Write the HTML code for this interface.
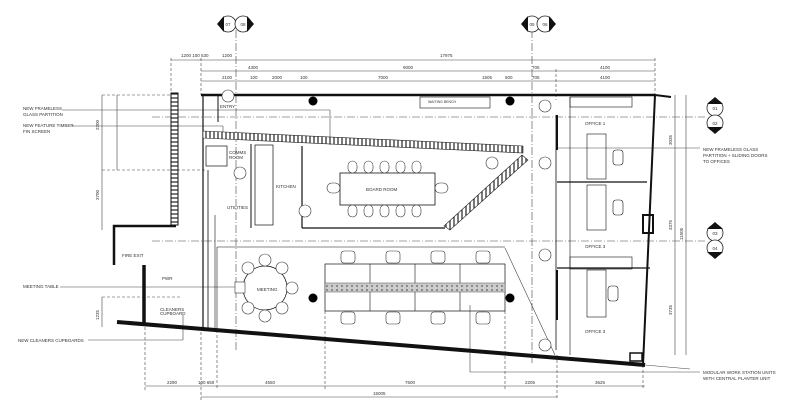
<!DOCTYPE html>
<html><head><style>
html,body{margin:0;padding:0;background:#fff;}
svg{display:block;}
text{font-family:"Liberation Sans",sans-serif;fill:#333;}
</style></head><body>
<svg width="800" height="405" viewBox="0 0 800 405" xmlns="http://www.w3.org/2000/svg">
<defs>
<pattern id="hatch" width="4" height="4" patternUnits="userSpaceOnUse"><rect width="4" height="4" fill="#fff"/><line x1="2" y1="0" x2="2" y2="4" stroke="#222" stroke-width="1.2"/></pattern>
<pattern id="hatchH" width="4" height="4" patternUnits="userSpaceOnUse"><rect width="4" height="4" fill="#fff"/><line x1="0" y1="2" x2="4" y2="2" stroke="#222" stroke-width="1.2"/></pattern>
<pattern id="planter" width="5" height="4" patternUnits="userSpaceOnUse"><rect width="5" height="4" fill="#ccc"/><circle cx="2" cy="2" r="1" fill="#777"/></pattern>
</defs>
<g stroke="#444" stroke-width="0.6" fill="none">
<!-- grid dash-dot -->
<line x1="236" y1="30" x2="236" y2="350" stroke-dasharray="8,2,1,2"/>
<line x1="532" y1="30" x2="532" y2="365" stroke-dasharray="8,2,1,2"/>
<line x1="152" y1="117" x2="705" y2="117" stroke-dasharray="8,2,1,2"/>
<line x1="152" y1="241" x2="705" y2="241" stroke-dasharray="8,2,1,2"/>
<!-- top dims -->
<line x1="171" y1="60" x2="655" y2="60"/>
<line x1="201" y1="71" x2="655" y2="71"/>
<line x1="201" y1="81" x2="655" y2="81"/>
<line x1="171" y1="58" x2="171" y2="225" stroke-dasharray="3,2"/>
<line x1="201" y1="58" x2="201" y2="95" stroke-dasharray="3,2"/>
<line x1="655" y1="58" x2="655" y2="95" stroke-dasharray="3,2"/>
<line x1="556" y1="69" x2="556" y2="100" stroke-dasharray="3,2"/>
<!-- left dims -->
<line x1="102" y1="95" x2="102" y2="150"/>
<line x1="102" y1="150" x2="102" y2="230"/>
<line x1="117" y1="95" x2="117" y2="170"/>
<line x1="102" y1="95" x2="178" y2="95" stroke-dasharray="3,2"/>
<line x1="102" y1="170" x2="205" y2="170" stroke-dasharray="3,2"/>
<line x1="102" y1="297" x2="180" y2="297" stroke-dasharray="3,2"/>
<line x1="102" y1="297" x2="102" y2="327"/>
<!-- bottom dims -->
<line x1="145" y1="386" x2="645" y2="386"/>
<line x1="201" y1="397" x2="557" y2="397"/>
<line x1="145" y1="322" x2="145" y2="390" stroke-dasharray="3,2"/>
<line x1="201" y1="327" x2="201" y2="400" stroke-dasharray="3,2"/>
<line x1="217" y1="330" x2="217" y2="390" stroke-dasharray="3,2"/>
<line x1="325" y1="311" x2="325" y2="390" stroke-dasharray="3,2"/>
<line x1="505" y1="311" x2="505" y2="390" stroke-dasharray="3,2"/>
<line x1="557" y1="355" x2="557" y2="400" stroke-dasharray="3,2"/>
<line x1="643" y1="365" x2="643" y2="390" stroke-dasharray="3,2"/>
<!-- right dims -->
<line x1="675" y1="95" x2="675" y2="355"/>
<line x1="686" y1="95" x2="686" y2="355"/>
<!-- leaders -->
<line x1="62" y1="110" x2="330" y2="110"/><line x1="330" y1="110" x2="330" y2="145"/>
<line x1="72" y1="126" x2="223" y2="126"/><line x1="223" y1="126" x2="223" y2="133"/>
<line x1="60" y1="287" x2="245" y2="287"/>
<line x1="88" y1="340" x2="183" y2="340"/><line x1="183" y1="340" x2="183" y2="315"/>
<line x1="556" y1="148" x2="700" y2="148"/>
<line x1="470" y1="305" x2="470" y2="372"/><line x1="470" y1="372" x2="700" y2="372"/>
<line x1="645" y1="365" x2="690" y2="369"/>
<line x1="505" y1="248" x2="555" y2="355"/>
</g>
<!-- section markers -->
<g stroke="#222" stroke-width="0.8" fill="#fff">
<circle cx="228" cy="24" r="8"/><circle cx="243" cy="24" r="8"/>
<circle cx="532" cy="24" r="8"/><circle cx="545" cy="24" r="8"/>
<circle cx="715" cy="108" r="8"/><circle cx="715" cy="123" r="8"/>
<circle cx="715" cy="233" r="8"/><circle cx="715" cy="248" r="8"/>
</g>
<g fill="#111">
<polygon points="217,24 224,16 224,32"/><polygon points="254,24 247,16 247,32"/>
<polygon points="521,24 528,16 528,32"/><polygon points="556,24 549,16 549,32"/>
<polygon points="715,97 707,104 723,104"/><polygon points="715,134 707,127 723,127"/>
<polygon points="715,222 707,229 723,229"/><polygon points="715,259 707,252 723,252"/>
</g>
<g font-size="4.5" text-anchor="middle">
<text x="228" y="26">07</text><text x="243" y="26">08</text>
<text x="532" y="26">05</text><text x="545" y="26">06</text>
<text x="715" y="110">01</text><text x="715" y="125">02</text>
<text x="715" y="235">03</text><text x="715" y="250">04</text>
</g>
<!-- walls -->
<g stroke="#111" fill="none">
<line x1="201" y1="95" x2="655" y2="95" stroke-width="2.5"/>
<line x1="203" y1="94" x2="203" y2="327" stroke-width="1.2"/>
<line x1="208" y1="170" x2="208" y2="330" stroke-width="0.8"/>
<line x1="215" y1="215" x2="215" y2="330" stroke-width="0.6"/>
<line x1="117" y1="322" x2="645" y2="365" stroke-width="4"/>
<line x1="655" y1="95" x2="643" y2="365" stroke-width="2"/>
<polyline points="114,265 114,226 176,226" stroke-width="2.5"/>
<line x1="144" y1="265" x2="144" y2="325" stroke-width="3.5"/>
<line x1="655" y1="95" x2="671" y2="97" stroke-width="2"/>
<rect x="643" y="215" width="10" height="18" stroke-width="2"/>
<rect x="630" y="353" width="12" height="8" stroke-width="1.5"/>
<!-- interior -->
<line x1="203" y1="140" x2="203" y2="230" stroke-width="1"/>
<rect x="206" y="146" width="21" height="20" stroke-width="0.7"/>
<line x1="251" y1="144" x2="251" y2="228" stroke-width="1"/>
<rect x="255" y="145" width="18" height="80" stroke-width="0.7"/>
<line x1="302" y1="146" x2="302" y2="228" stroke-width="1.2"/>
<line x1="302" y1="228" x2="445" y2="228" stroke-width="1.2"/>
<line x1="218" y1="95" x2="218" y2="122" stroke-width="1"/>
<line x1="228" y1="95" x2="244" y2="95" stroke-width="2"/>
<!-- boardroom table -->
<rect x="340" y="173" width="95" height="32" stroke-width="0.8"/>
<!-- workstations -->
<rect x="325" y="264" width="180" height="47" stroke-width="0.7"/>
<line x1="370" y1="264" x2="370" y2="311" stroke-width="0.6"/>
<line x1="415" y1="264" x2="415" y2="311" stroke-width="0.6"/>
<line x1="460" y1="264" x2="460" y2="311" stroke-width="0.6"/>
<line x1="217" y1="247" x2="505" y2="247" stroke-width="0.6"/>
<line x1="217" y1="247" x2="217" y2="330" stroke-width="0.6"/>
<!-- meeting -->
<circle cx="265" cy="288" r="22" stroke-width="0.7"/>
<!-- offices -->
<line x1="556" y1="115" x2="556" y2="350" stroke-width="0.8"/>
<line x1="557" y1="115" x2="557" y2="150" stroke-width="2"/>
<line x1="557" y1="270" x2="557" y2="320" stroke-width="2"/>
<line x1="557" y1="182" x2="647" y2="182" stroke-width="1.2"/>
<line x1="557" y1="268" x2="650" y2="268" stroke-width="1.2"/>
<rect x="570" y="97" width="62" height="10" stroke-width="0.6"/>
<rect x="570" y="257" width="62" height="12" stroke-width="0.6"/>
<line x1="570" y1="97" x2="570" y2="355" stroke-width="0.6"/>
<rect x="587" y="134" width="19" height="45" stroke-width="0.6"/>
<rect x="587" y="185" width="19" height="45" stroke-width="0.6"/>
<rect x="587" y="270" width="19" height="47" stroke-width="0.6"/>
<rect x="613" y="150" width="10" height="15" rx="3" stroke-width="0.6"/>
<rect x="613" y="200" width="10" height="15" rx="3" stroke-width="0.6"/>
<rect x="608" y="286" width="10" height="15" rx="3" stroke-width="0.6"/>
<rect x="420" y="97" width="70" height="11" stroke-width="0.6"/>
</g>
<!-- chairs -->
<g stroke="#333" stroke-width="0.6" fill="#fff">
<rect x="348" y="161" width="9" height="12" rx="4.5"/><rect x="364" y="161" width="9" height="12" rx="4.5"/><rect x="380" y="161" width="9" height="12" rx="4.5"/><rect x="396" y="161" width="9" height="12" rx="4.5"/><rect x="412" y="161" width="9" height="12" rx="4.5"/>
<rect x="348" y="205" width="9" height="12" rx="4.5"/><rect x="364" y="205" width="9" height="12" rx="4.5"/><rect x="380" y="205" width="9" height="12" rx="4.5"/><rect x="396" y="205" width="9" height="12" rx="4.5"/><rect x="412" y="205" width="9" height="12" rx="4.5"/>
<rect x="327" y="183" width="13" height="10" rx="5"/><rect x="435" y="183" width="13" height="10" rx="5"/>
<rect x="341" y="251" width="14" height="12" rx="3"/><rect x="386" y="251" width="14" height="12" rx="3"/><rect x="431" y="251" width="14" height="12" rx="3"/><rect x="476" y="251" width="14" height="12" rx="3"/>
<rect x="341" y="312" width="14" height="12" rx="3"/><rect x="386" y="312" width="14" height="12" rx="3"/><rect x="431" y="312" width="14" height="12" rx="3"/><rect x="476" y="312" width="14" height="12" rx="3"/>
<circle cx="265" cy="260" r="6"/><circle cx="265" cy="316" r="6"/><circle cx="248" cy="268" r="6"/><circle cx="282" cy="268" r="6"/><circle cx="248" cy="308" r="6"/><circle cx="282" cy="308" r="6"/><circle cx="292" cy="288" r="6"/><rect x="235" y="282" width="10" height="11"/>
</g>
<rect x="325" y="283" width="180" height="9" fill="url(#planter)" stroke="#555" stroke-width="0.5"/>
<!-- hatched screens -->
<polygon points="203,131 523,146 523,153 203,138" fill="url(#hatch)" stroke="#222" stroke-width="0.6"/>
<polygon points="522,155 528,160 450,230 444,226" fill="url(#hatch)" stroke="#222" stroke-width="0.6"/>
<rect x="171" y="93" width="7" height="132" fill="url(#hatchH)" stroke="#111" stroke-width="1"/>
<!-- columns -->
<g fill="#000"><circle cx="313" cy="101" r="4.5"/><circle cx="510" cy="101" r="4.5"/><circle cx="313" cy="298" r="4.5"/><circle cx="510" cy="298" r="4.5"/></g>
<!-- tags -->
<g stroke="#333" stroke-width="0.6" fill="#fff">
<circle cx="228" cy="96" r="6"/><circle cx="240" cy="173" r="6"/><circle cx="305" cy="211" r="6"/><circle cx="545" cy="106" r="6"/><circle cx="545" cy="163" r="6"/><circle cx="545" cy="255" r="6"/><circle cx="545" cy="345" r="6"/><circle cx="492" cy="163" r="6"/>
</g>
<!-- labels -->
<g font-size="4.5">
<text x="23" y="110">NEW FRAMELESS</text><text x="23" y="116">GLASS PARTITION</text>
<text x="23" y="127">NEW FEATURE TIMBER</text><text x="23" y="133">FIN SCREEN</text>
<text x="23" y="288">MEETING TABLE</text>
<text x="18" y="342">NEW CLEANERS CUPBOARDS</text>
<text x="703" y="151">NEW FRAMELESS GLASS</text><text x="703" y="157">PARTITION + SLIDING DOORS</text><text x="703" y="163">TO OFFICES</text>
<text x="703" y="374">MODULAR WORK STATION UNITS</text><text x="703" y="380">WITH CENTRAL PLANTER UNIT</text>
<text x="220" y="108">ENTRY</text><text x="229" y="154">COMMS</text><text x="229" y="159">ROOM</text>
<text x="276" y="188">KITCHEN</text><text x="227" y="209">UTILITIES</text>
<text x="366" y="191">BOARD ROOM</text><text x="257" y="291">MEETING</text>
<text x="122" y="257">FIRE EXIT</text><text x="162" y="280">PWR</text>
<text x="160" y="311">CLEANERS</text><text x="160" y="315">CUPBOARD</text>
<text x="585" y="125">OFFICE 1</text><text x="585" y="248">OFFICE 3</text><text x="585" y="333">OFFICE 3</text>
<text x="428" y="103" font-size="3.5">WAITING BENCH</text>
<text x="181" y="57">1200 100 530</text><text x="222" y="57">1200</text><text x="440" y="57">17975</text>
<text x="248" y="69">4300</text><text x="403" y="69">9000</text><text x="532" y="69">705</text><text x="600" y="69">4100</text>
<text x="222" y="79">2100</text><text x="250" y="79">100</text><text x="272" y="79">2000</text><text x="300" y="79">100</text><text x="378" y="79">7000</text><text x="482" y="79">1505</text><text x="505" y="79">500</text><text x="532" y="79">705</text><text x="600" y="79">4100</text>
<text x="167" y="384">2290</text><text x="198" y="384">100 650</text><text x="265" y="384">4550</text><text x="405" y="384">7600</text><text x="525" y="384">2205</text><text x="595" y="384">3625</text>
<text x="373" y="395">15005</text>
</g>
<g font-size="4.5">
<text transform="translate(99,130) rotate(-90)">2300</text>
<text transform="translate(99,200) rotate(-90)">3700</text>
<text transform="translate(99,320) rotate(-90)">1235</text>
<text transform="translate(672,145) rotate(-90)">3035</text>
<text transform="translate(672,230) rotate(-90)">3375</text>
<text transform="translate(672,315) rotate(-90)">3735</text>
<text transform="translate(683,240) rotate(-90)">11505</text>
</g>
</svg>
</body></html>
